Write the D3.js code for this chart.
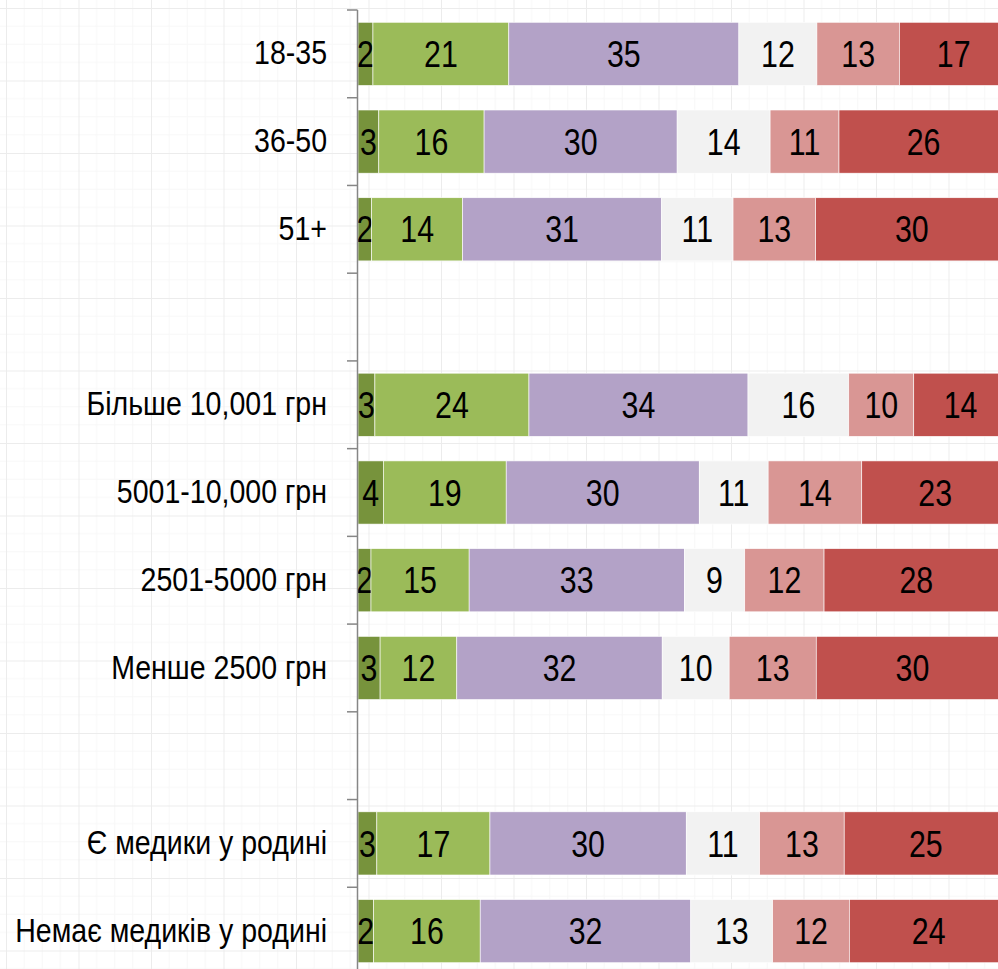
<!DOCTYPE html>
<html>
<head>
<meta charset="utf-8">
<script src="https://cdn.jsdelivr.net/npm/d3@7"></script>
<style>
  html, body { margin: 0; padding: 0; background: #fff; overflow: hidden; }
  .cat text { font-family: "Liberation Sans", Arial, sans-serif; font-size: 33px; fill: #000; }
  .val { font-family: "Liberation Sans", Arial, sans-serif; font-size: 37px; fill: #000; }
</style>
</head>
<body>
<div id="chart"></div>
<script>
// categories (null = empty spacer row)
const categories = ["18-35", "36-50", "51+", null,
  "Більше 10,001 грн", "5001-10,000 грн", "2501-5000 грн", "Менше 2500 грн", null,
  "Є медики у родині", "Немає медиків у родині"];

// six answer groups, % per row
const s1 = [2.3, 3.2, 2.1, 0, 2.6, 3.9, 2.0, 3.4, 0, 2.9, 2.4];
const s2 = [20.9, 16.2, 14.0, 0, 23.7, 18.9, 15.1, 11.8, 0, 17.4, 16.4];
const s3 = [35.4, 29.7, 30.6, 0, 33.7, 29.7, 33.1, 31.6, 0, 30.2, 32.4];
const s4 = [12.0, 14.3, 11.0, 0, 15.5, 10.6, 9.3, 10.3, 0, 11.3, 12.6];
const s5 = [12.7, 10.6, 12.7, 0, 10.0, 14.4, 12.2, 13.4, 0, 13.0, 11.8];
const s6 = [16.7, 26.0, 29.6, 0, 14.4, 22.6, 28.4, 29.6, 0, 25.1, 24.4];

const keys = ["s1", "s2", "s3", "s4", "s5", "s6"];
const colors = ["#77933c", "#9bbb59", "#b3a2c7", "#f2f2f2", "#d99694", "#c0504d"];

const width = 998, height = 969;
const narrow = 0.82;    // squeeze value text to look like a narrow face
const narrowCat = 0.865; // same for the category labels

const rows = categories.map((c, i) => ({
  i: i, s1: s1[i], s2: s2[i], s3: s3[i], s4: s4[i], s5: s5[i], s6: s6[i]
}));

const svg = d3.select("#chart").append("svg")
  .attr("width", width)
  .attr("height", height);

// faint graph-paper background
const defs = svg.append("defs");
const pat = defs.append("pattern")
  .attr("id", "grid")
  .attr("patternUnits", "userSpaceOnUse")
  .attr("width", 72.5).attr("height", 72.5)
  .attr("x", 6).attr("y", 8);
for (let k = 1; k < 4; k++) {
  pat.append("line").attr("x1", k * 18.1).attr("x2", k * 18.1).attr("y1", 0).attr("y2", 72.5)
    .attr("stroke", "#f7f7f7").attr("stroke-width", 1);
  pat.append("line").attr("y1", k * 18.1).attr("y2", k * 18.1).attr("x1", 0).attr("x2", 72.5)
    .attr("stroke", "#f7f7f7").attr("stroke-width", 1);
}
pat.append("line").attr("x1", 0.5).attr("x2", 0.5).attr("y1", 0).attr("y2", 72.5)
  .attr("stroke", "#ececec").attr("stroke-width", 1);
pat.append("line").attr("y1", 0.5).attr("y2", 0.5).attr("x1", 0).attr("x2", 72.5)
  .attr("stroke", "#ececec").attr("stroke-width", 1);

svg.append("rect").attr("width", width).attr("height", height).attr("fill", "url(#grid)");

const x = d3.scaleLinear().domain([0, 100]).range([358, 1008]);
const y = d3.scaleBand()
  .domain(d3.range(categories.length))
  .range([10, 975])
  .paddingInner(0.28)
  .paddingOuter(0.14);

const stacked = d3.stack().keys(keys)(rows);

const layer = svg.selectAll(".layer")
  .data(stacked)
  .enter().append("g")
  .attr("class", "layer")
  .attr("fill", (d, k) => colors[k]);

layer.selectAll("rect")
  .data(d => d.filter(p => p[1] > p[0]))
  .enter().append("rect")
  .attr("x", d => x(d[0]))
  .attr("y", d => y(d.data.i))
  .attr("width", d => x(d[1]) - x(d[0]))
  .attr("height", y.bandwidth())
  .attr("stroke", "#ffffff")
  .attr("stroke-width", 0.6);

// value labels, rounded like the source
layer.selectAll("text")
  .data(d => d.filter(p => p[1] > p[0]))
  .enter().append("text")
  .attr("class", "val")
  .attr("transform", d => "translate(" + (x(d[0]) + x(d[1])) / 2 + "," + (y(d.data.i) + y.bandwidth() / 2) + ") scale(" + narrow + ",1)")
  .attr("text-anchor", "middle")
  .attr("dominant-baseline", "central")
  .text(d => Math.round(d[1] - d[0]));

// category axis: labels only
const axis = svg.append("g")
  .attr("class", "cat")
  .attr("transform", "translate(358,0)")
  .call(d3.axisLeft(y).tickSize(0).tickPadding(31).tickFormat(i => categories[i] || ""));
axis.select(".domain").remove();
axis.selectAll("text")
  .attr("x", -31 / narrowCat)
  .attr("transform", "scale(" + narrowCat + ",1)");

// axis line with ticks on band boundaries
const step = y.step();
const edges = d3.range(categories.length + 1).map(k => 10 + k * step);
svg.append("line")
  .attr("x1", 357.5).attr("x2", 357.5)
  .attr("y1", edges[0]).attr("y2", height)
  .attr("stroke", "#868686").attr("stroke-width", 1.5);
svg.selectAll(".edge")
  .data(edges)
  .enter().append("line")
  .attr("class", "edge")
  .attr("x1", 347).attr("x2", 357.5)
  .attr("y1", d => d).attr("y2", d => d)
  .attr("stroke", "#868686").attr("stroke-width", 1.5);
</script>
</body>
</html>
